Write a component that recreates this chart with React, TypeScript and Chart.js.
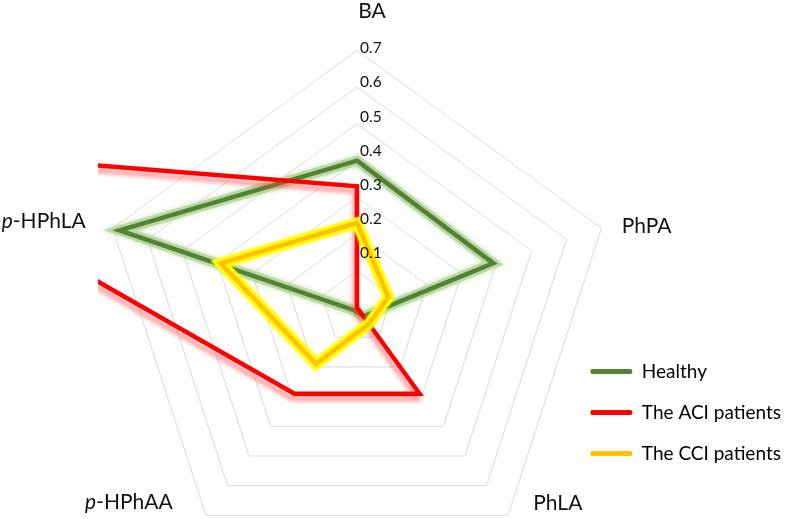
import React, { useEffect, useRef } from 'react';
import { Chart, registerables } from 'chart.js';

Chart.register(...registerables);

// ---------- data ----------
const AXES = ['BA', 'PhPA', 'PhLA', 'p-HPhAA', 'p-HPhLA'];
const SERIES_NAMES = ['Healthy', 'The ACI patients', 'The CCI patients'];
const HEALTHY = [0.40, 0.39, 0.03, 0.01, 0.68];
const ACI = [0.33, 0.0, 0.29, 0.29, 1.42];
const CCI = [0.23, 0.09, 0.055, 0.19, 0.39];
const TICK_VALUES = [0.1, 0.2, 0.3, 0.4, 0.5, 0.6, 0.7];
const TICK_LABELS = ['0.1', '0.2', '0.3', '0.4', '0.5', '0.6', '0.7'];
const SCALE_MIN = 0;
const SCALE_MAX = 0.7;
const SCALE_STEP = 0.1;

// ---------- layout / style ----------
const W = 787;
const H = 519;
const CENTER_X = 357;
const CENTER_Y = 307.5;
const RADIUS = 257;
const FONT = 'Lato, "Open Sans", sans-serif';
const TEXT_COLOR = '#111111';
const COLORS = { healthy: '#548235', aci: '#FF0000', cci: '#FFC000' };

// label anchors relative to the radial scale centre
const LABEL_POS = [
  { dx: 15, dy: -296.5, align: 'center' },
  { dx: 264.7, dy: -81.5, align: 'left' },
  { dx: 176.3, dy: 195.5, align: 'left' },
  { dx: -272, dy: 194.5, align: 'left' },
  { dx: -355.3, dy: -86.5, align: 'left' },
];

const glowPlugin = {
  id: 'glow',
  beforeDatasetDraw(chart: any, args: any) {
    const ds: any = chart.data.datasets[args.index];
    const ctx = chart.ctx;
    ctx.save();
    if (ds.shadow) {
      ctx.shadowColor = ds.shadow.color;
      ctx.shadowBlur = ds.shadow.blur;
      ctx.shadowOffsetX = ds.shadow.dx || 0;
      ctx.shadowOffsetY = ds.shadow.dy || 0;
    }
  },
  afterDatasetDraw(chart: any) {
    chart.ctx.restore();
  },
};

const labelsPlugin = {
  id: 'radarText',
  afterDraw(chart: any) {
    const ctx = chart.ctx;
    const s = chart.scales.r;
    ctx.save();
    ctx.fillStyle = TEXT_COLOR;
    ctx.textBaseline = 'middle';
    // tick labels, right of the first spoke
    ctx.font = `15.5px ${FONT}`;
    ctx.textAlign = 'left';
    TICK_VALUES.forEach((v, i) => {
      const d = s.getDistanceFromCenterForValue(v);
      ctx.fillText(TICK_LABELS[i], s.xCenter + 3, s.yCenter - 20 - d * 0.931);
    });
    // axis (point) labels
    AXES.forEach((lab, i) => {
      const p = LABEL_POS[i];
      let x = s.xCenter + p.dx;
      const y = s.yCenter + p.dy;
      ctx.textAlign = 'left';
      const normal = `21px ${FONT}`;
      const italic = `italic 21px ${FONT}`;
      if (lab.startsWith('p-')) {
        ctx.font = italic;
        const w1 = ctx.measureText('p').width;
        ctx.font = normal;
        const rest = lab.slice(1);
        const w2 = ctx.measureText(rest).width;
        if (p.align === 'center') x -= (w1 + w2) / 2;
        ctx.font = italic;
        ctx.fillText('p', x, y);
        ctx.font = normal;
        ctx.fillText(rest, x + w1, y);
      } else {
        ctx.font = normal;
        const w = ctx.measureText(lab).width;
        if (p.align === 'center') x -= w / 2;
        ctx.fillText(lab, x, y);
      }
    });
    ctx.restore();
  },
};

export default function App() {
  const ref = useRef<HTMLCanvasElement | null>(null);

  useEffect(() => {
    if (!ref.current) return;
    const clip = { left: -98, top: false, right: false, bottom: false };
    const base = { fill: false, pointRadius: 0, pointHoverRadius: 0, tension: 0, clip };
    const chart = new Chart(ref.current, {
      type: 'radar',
      data: {
        labels: AXES,
        datasets: [
          {
            ...base, label: SERIES_NAMES[0] + ' glow', data: HEALTHY, isGlow: true,
            borderColor: 'rgba(169,209,142,0.7)', borderWidth: 10, order: 6,
            shadow: { color: 'rgba(169,209,142,0.9)', blur: 5 },
          },
          {
            ...base, label: SERIES_NAMES[0], data: HEALTHY,
            borderColor: COLORS.healthy, borderWidth: 4.5, order: 5,
          },
          {
            ...base, label: SERIES_NAMES[1], data: ACI,
            borderColor: COLORS.aci, borderWidth: 4.5, order: 4,
            shadow: { color: 'rgba(255,60,60,0.55)', blur: 4, dx: -2, dy: 5 },
          },
          {
            ...base, label: SERIES_NAMES[2] + ' glow', data: CCI, isGlow: true,
            borderColor: '#FFFF00', borderWidth: 10.5, order: 2,
            shadow: { color: 'rgba(255,255,0,0.9)', blur: 3 },
          },
          {
            ...base, label: SERIES_NAMES[2], data: CCI,
            borderColor: COLORS.cci, borderWidth: 4.5, order: 1,
          },
        ] as any,
      },
      options: {
        responsive: false,
        animation: false,
        events: [],
        layout: { padding: { left: 0, top: 0, right: -4, bottom: 34 } },
        scales: {
          r: {
            min: SCALE_MIN,
            max: SCALE_MAX,
            ticks: { stepSize: SCALE_STEP, display: false },
            grid: { color: '#D9D9D9', lineWidth: 1 },
            angleLines: { display: false },
            pointLabels: { display: false },
            afterFit: (s: any) => {
              s.xCenter = CENTER_X;
              s.yCenter = CENTER_Y;
              s.drawingArea = RADIUS;
            },
          } as any,
        },
        plugins: {
          tooltip: { enabled: false },
          legend: {
            position: 'right',
            align: 'end',
            labels: {
              boxWidth: 42,
              boxHeight: 5,
              padding: 22,
              color: TEXT_COLOR,
              font: { family: FONT, size: 19 },
              generateLabels: (c: any) =>
                c.data.datasets
                  .map((ds: any, i: number) => ({
                    text: ds.label,
                    fillStyle: ds.borderColor,
                    strokeStyle: ds.borderColor,
                    lineWidth: 0,
                    borderRadius: 2,
                    hidden: false,
                    datasetIndex: i,
                    isGlow: ds.isGlow,
                  }))
                  .filter((it: any) => !it.isGlow),
            },
          },
        },
      } as any,
      plugins: [glowPlugin, labelsPlugin],
    });
    return () => chart.destroy();
  }, []);

  return (
    <div style={{ position: 'absolute', left: 0, top: 0, width: W, height: H, background: '#fff' }}>
      <canvas ref={ref} width={W} height={H} style={{ display: 'block' }} />
    </div>
  );
}
